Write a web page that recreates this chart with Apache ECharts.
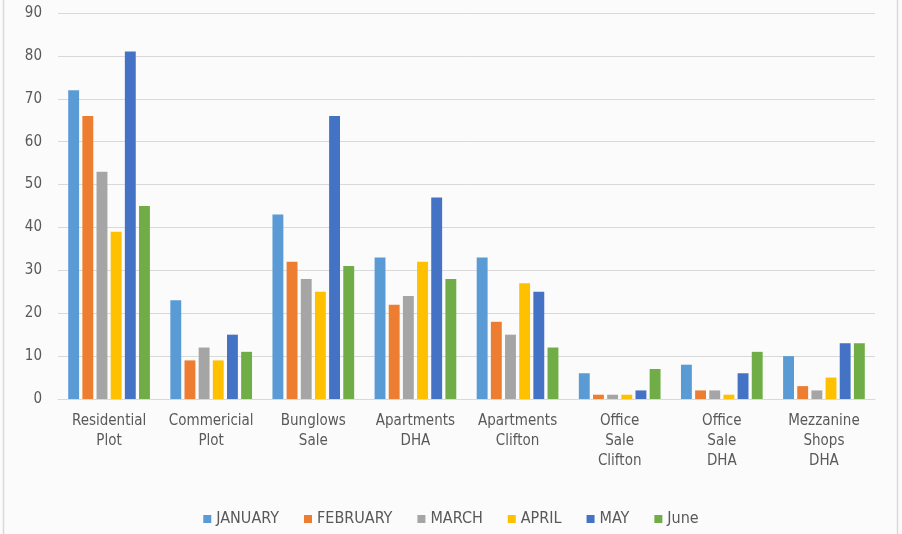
<!DOCTYPE html>
<html>
<head>
<meta charset="utf-8">
<script src="https://cdn.jsdelivr.net/npm/echarts@6/dist/echarts.min.js"></script>
<style>
html, body { margin: 0; padding: 0; background: #fff; }
#main { width: 902px; height: 534px; }
</style>
</head>
<body>
<div id="main"></div>
<script>
var categories = ['Residential\nPlot', 'Commericial\nPlot', 'Bunglows\nSale', 'Apartments\nDHA',
	'Apartments\nClifton', 'Office\nSale\nClifton', 'Office\nSale\nDHA', 'Mezzanine\nShops\nDHA'];
var months = ['JANUARY', 'FEBRUARY', 'MARCH', 'APRIL', 'MAY', 'June'];
var colors = ['#5b9bd5', '#ed7d31', '#a5a5a5', '#ffc000', '#4472c4', '#70ad47'];

var january = [72, 23, 43, 33, 33, 6, 8, 10];
var february = [66, 9, 32, 22, 18, 1, 2, 3];
var march = [53, 12, 28, 24, 15, 1, 2, 2];
var april = [39, 9, 25, 32, 27, 1, 1, 5];
var may = [81, 15, 66, 47, 25, 2, 6, 13];
var june = [45, 11, 31, 28, 12, 7, 11, 13];
var values = [january, february, march, april, may, june];

var font = "'Liberation Sans Narrow', 'DejaVu Sans Condensed', sans-serif";

var series = [];
for (var i = 0; i < months.length; i++) {
	series.push({
		name : months[i],
		type : 'bar',
		data : values[i],
		barGap : '30%',
		barCategoryGap : '20%',
		itemStyle : { color : colors[i] }
	});
}

var myChart = echarts.init(document.getElementById('main'));
myChart.setOption({
	backgroundColor : '#fbfbfb',
	animation : false,
	textStyle : { fontFamily : font },
	graphic : [ {
		type : 'rect',
		shape : { x : 3.5, y : -2, width : 894, height : 540 },
		style : { fill : 'none', stroke : '#d9d9d9', lineWidth : 1.5 },
		silent : true
	} ],
	grid : { left : 58, right : 27, top : 13, bottom : 135 },
	legend : {
		bottom : 2,
		left : 'center',
		itemWidth : 8,
		itemHeight : 8,
		itemGap : 25,
		icon : 'rect',
		textStyle : { color : '#595959', fontSize : 16, fontFamily : font }
	},
	xAxis : {
		type : 'category',
		data : categories,
		axisLine : { lineStyle : { color : '#d9d9d9' } },
		axisTick : { show : false },
		axisLabel : { color : '#595959', fontSize : 15, lineHeight : 20, margin : 12, interval : 0 }
	},
	yAxis : {
		type : 'value',
		min : 0,
		max : 90,
		interval : 10,
		axisLine : { show : false },
		axisTick : { show : false },
		axisLabel : { color : '#595959', fontSize : 15, margin : 16 },
		splitLine : { lineStyle : { color : '#d9d9d9' } }
	},
	series : series
});
</script>
</body>
</html>
